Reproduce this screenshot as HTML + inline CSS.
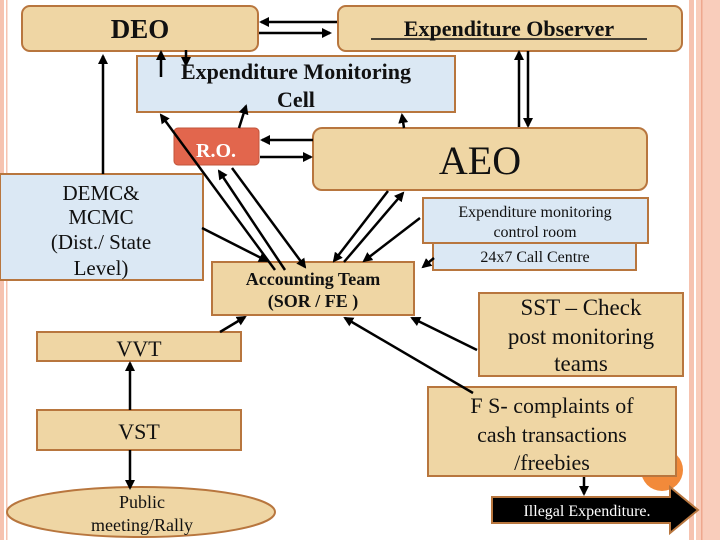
<!DOCTYPE html>
<html><head><meta charset="utf-8"><style>
body{margin:0;width:720px;height:540px;overflow:hidden;background:#fff}
svg{display:block}
text{font-family:"Liberation Serif",serif;fill:#111}
</style></head><body>
<svg width="720" height="540" viewBox="0 0 720 540" xmlns="http://www.w3.org/2000/svg">
<defs>
<marker id="a" viewBox="0 0 10 10" refX="8" refY="5" markerWidth="4" markerHeight="4" orient="auto-start-reverse"><path d="M0,0L10,5L0,10z" fill="#000"/></marker>
</defs>
<rect x="0" y="0" width="4" height="540" fill="#f6c3b0"/>
<rect x="6" y="0" width="1.5" height="540" fill="#f6c3b0"/>
<rect x="689" y="0" width="5" height="540" fill="#f6c3b0"/>
<rect x="696" y="0" width="24" height="540" fill="#f9cdbb"/>
<rect x="701" y="0" width="1.5" height="540" fill="#eea88e"/>

<g stroke="#b8763e" stroke-width="2">
<rect x="22" y="6" width="236" height="45" rx="8" fill="#efd6a4"/>
<rect x="338" y="6" width="344" height="45" rx="8" fill="#efd6a4"/>
<rect x="137" y="56" width="318" height="56" fill="#dbe8f4"/>
<rect x="313" y="128" width="334" height="62" rx="9" fill="#efd6a4"/>
<rect x="0" y="174" width="203" height="106" fill="#dbe8f4"/>
<rect x="423" y="198" width="225" height="45" fill="#dbe8f4"/>
<rect x="433" y="243" width="203" height="27" fill="#dbe8f4"/>
<rect x="212" y="262" width="202" height="53" fill="#efd6a4"/>
<rect x="479" y="293" width="204" height="83" fill="#efd6a4"/>
<rect x="37" y="332" width="204" height="29" fill="#efd6a4"/>
<rect x="37" y="410" width="204" height="40" fill="#efd6a4"/>
<ellipse cx="141" cy="512" rx="134" ry="25" fill="#efd6a4"/>
</g>
<circle cx="662" cy="470" r="21" fill="#f28a3a"/>
<rect x="428" y="387" width="248" height="89" fill="#efd6a4" stroke="#b8763e" stroke-width="2"/>
<rect x="174" y="128" width="85" height="37" rx="4" fill="#e2664d" stroke="#c2543a"/>
<path d="M492,497H670V487L698,510L670,533V523H492Z" fill="#000" stroke="#b8763e" stroke-width="2"/>

<g stroke="#000" stroke-width="2.5" fill="none" marker-end="url(#a)">
<line x1="337" y1="22" x2="261" y2="22"/>
<line x1="259" y1="33" x2="330" y2="33"/>
<line x1="161" y1="77" x2="161" y2="52"/>
<line x1="186" y1="50" x2="186" y2="65"/>
<line x1="103" y1="174" x2="103" y2="56"/>
<line x1="519" y1="127" x2="519" y2="52"/>
<line x1="528" y1="51" x2="528" y2="126"/>
<line x1="239" y1="128" x2="246" y2="106"/>
<line x1="404" y1="128" x2="402" y2="115"/>
<line x1="313" y1="140" x2="262" y2="140"/>
<line x1="260" y1="157" x2="311" y2="157"/>
<line x1="275" y1="270" x2="161" y2="115"/>
<line x1="285" y1="270" x2="219" y2="171"/>
<line x1="232" y1="168" x2="305" y2="267"/>
<line x1="202" y1="228" x2="267" y2="261"/>
<line x1="388" y1="191" x2="334" y2="261"/>
<line x1="344" y1="262" x2="403" y2="193"/>
<line x1="420" y1="218" x2="364" y2="261"/>
<line x1="434" y1="258" x2="423" y2="267"/>
<line x1="220" y1="332" x2="245" y2="317"/>
<line x1="477" y1="350" x2="412" y2="318"/>
<line x1="473" y1="393" x2="345" y2="318"/>
<line x1="130" y1="410" x2="130" y2="363"/>
<line x1="130" y1="450" x2="130" y2="488"/>
<line x1="584" y1="477" x2="584" y2="494"/>
</g>

<text x="140" y="38" font-size="27" font-weight="bold" text-anchor="middle">DEO</text>
<text x="509" y="36" font-size="22" font-weight="bold" text-anchor="middle">Expenditure Observer</text>
<line x1="371" y1="39" x2="647" y2="39" stroke="#111" stroke-width="1.5"/>
<text x="296" y="79" font-size="22" font-weight="bold" text-anchor="middle">Expenditure Monitoring</text>
<text x="296" y="107" font-size="22" font-weight="bold" text-anchor="middle">Cell</text>
<text x="216" y="157" font-size="20" font-weight="bold" text-anchor="middle" style="fill:#fff">R.O.</text>
<text x="480" y="174" font-size="40" text-anchor="middle">AEO</text>
<text x="101" y="200" font-size="21" text-anchor="middle">DEMC&amp;</text>
<text x="101" y="224" font-size="21" text-anchor="middle">MCMC</text>
<text x="101" y="249" font-size="21" text-anchor="middle">(Dist./ State</text>
<text x="101" y="275" font-size="21" text-anchor="middle">Level)</text>
<text x="535" y="217" font-size="16" text-anchor="middle">Expenditure monitoring</text>
<text x="535" y="237" font-size="16" text-anchor="middle">control room</text>
<text x="535" y="262" font-size="16" text-anchor="middle">24x7 Call Centre</text>
<text x="313" y="285" font-size="18" font-weight="bold" text-anchor="middle">Accounting Team</text>
<text x="313" y="307" font-size="18" font-weight="bold" text-anchor="middle">(SOR  / FE )</text>
<text x="581" y="315" font-size="23" text-anchor="middle">SST – Check</text>
<text x="581" y="344" font-size="23" text-anchor="middle">post monitoring</text>
<text x="581" y="371" font-size="23" text-anchor="middle">teams</text>
<text x="139" y="356" font-size="22" text-anchor="middle">VVT</text>
<text x="139" y="439" font-size="22" text-anchor="middle">VST</text>
<text x="552" y="413" font-size="22" text-anchor="middle">F S- complaints of</text>
<text x="552" y="442" font-size="22" text-anchor="middle">cash transactions</text>
<text x="552" y="470" font-size="22" text-anchor="middle">/freebies</text>
<text x="142" y="508" font-size="18" text-anchor="middle">Public</text>
<text x="142" y="531" font-size="18" text-anchor="middle">meeting/Rally</text>
<text x="587" y="516" font-size="16" text-anchor="middle" style="fill:#fff">Illegal Expenditure.</text>
</svg>
</body></html>
